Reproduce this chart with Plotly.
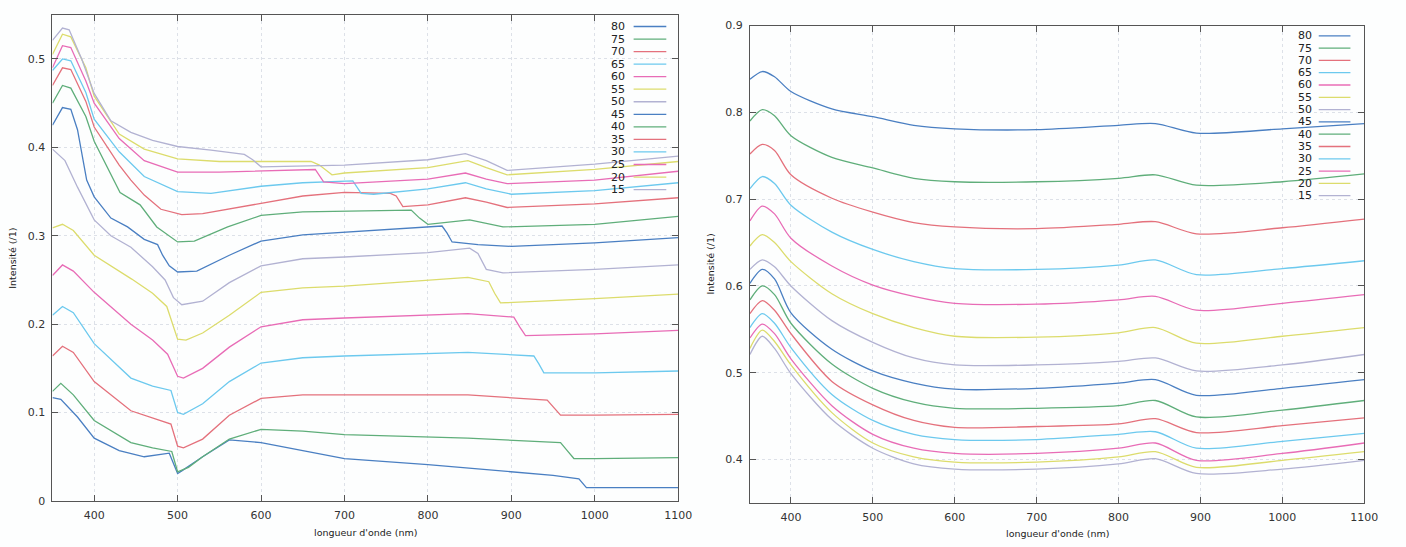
import plotly.graph_objects as go

# ---------------- data ----------------
LABELS = ["80", "75", "70", "65", "60", "55", "50", "45", "40", "35", "30", "25", "20", "15"]
COLORS = ["#4a7fc2", "#5fae7a", "#e4717c", "#6cc9ee", "#e86cb6", "#dcdc6c", "#b2b2d2",
          "#4a7fc2", "#5fae7a", "#e4717c", "#6cc9ee", "#e86cb6", "#dcdc6c", "#b2b2d2"]

# Left chart (per-series wavelength / intensity)
L80_WL = [350, 362, 372, 380, 391, 400, 420, 440, 460, 476, 482, 490, 500, 523, 562, 600, 650, 700, 817, 823, 829, 860, 900, 1000, 1100]
L80_I = [0.425, 0.445, 0.443, 0.42, 0.363, 0.344, 0.32, 0.31, 0.296, 0.29, 0.278, 0.266, 0.259, 0.26, 0.278, 0.294, 0.301, 0.304, 0.311, 0.303, 0.293, 0.29, 0.288, 0.292, 0.298]
L75_WL = [350, 362, 372, 390, 400, 420, 431, 455, 475, 500, 520, 560, 600, 650, 700, 780, 790, 800, 850, 890, 1000, 1100]
L75_I = [0.45, 0.47, 0.467, 0.435, 0.407, 0.37, 0.349, 0.335, 0.31, 0.293, 0.294, 0.31, 0.323, 0.327, 0.328, 0.329, 0.32, 0.313, 0.318, 0.31, 0.313, 0.322]
L70_WL = [350, 362, 372, 390, 400, 430, 444, 460, 480, 505, 530, 600, 650, 700, 755, 762, 770, 800, 845, 870, 895, 1000, 1100]
L70_I = [0.47, 0.49, 0.488, 0.452, 0.423, 0.38, 0.363, 0.346, 0.33, 0.324, 0.325, 0.337, 0.345, 0.349, 0.348, 0.345, 0.333, 0.335, 0.343, 0.338, 0.332, 0.336, 0.343]
L65_WL = [350, 362, 372, 390, 400, 430, 460, 500, 540, 600, 650, 710, 720, 735, 800, 845, 870, 900, 1000, 1100]
L65_I = [0.487, 0.5, 0.498, 0.462, 0.432, 0.395, 0.367, 0.35, 0.348, 0.356, 0.36, 0.362, 0.348, 0.347, 0.353, 0.36, 0.353, 0.347, 0.351, 0.36]
L60_WL = [350, 362, 372, 390, 400, 430, 460, 500, 550, 600, 665, 675, 700, 800, 845, 870, 895, 1000, 1100]
L60_I = [0.49, 0.515, 0.513, 0.475, 0.45, 0.41, 0.385, 0.372, 0.372, 0.373, 0.375, 0.361, 0.359, 0.364, 0.371, 0.364, 0.359, 0.363, 0.373]
L55_WL = [350, 362, 372, 390, 400, 430, 460, 500, 550, 600, 660, 670, 685, 700, 800, 848, 870, 895, 1000, 1100]
L55_I = [0.505, 0.528, 0.525, 0.49, 0.458, 0.415, 0.398, 0.387, 0.384, 0.384, 0.384, 0.38, 0.369, 0.371, 0.377, 0.385, 0.377, 0.369, 0.375, 0.384]
L50_WL = [350, 362, 370, 385, 400, 420, 444, 470, 500, 540, 580, 590, 600, 700, 800, 845, 870, 895, 1000, 1100]
L50_I = [0.521, 0.535, 0.533, 0.5, 0.461, 0.43, 0.417, 0.408, 0.401, 0.397, 0.392, 0.386, 0.378, 0.38, 0.386, 0.393, 0.385, 0.374, 0.381, 0.39]
L45_WL = [350, 360, 380, 400, 430, 460, 490, 500, 505, 530, 562, 600, 650, 700, 800, 848, 950, 981, 990, 1100]
L45_I = [0.117, 0.115, 0.095, 0.071, 0.057, 0.05, 0.054, 0.031, 0.034, 0.05, 0.069, 0.066, 0.057, 0.048, 0.041, 0.037, 0.029, 0.025, 0.015, 0.015]
L40_WL = [350, 360, 375, 400, 444, 470, 493, 500, 513, 530, 562, 600, 650, 700, 848, 959, 967, 975, 1000, 1100]
L40_I = [0.124, 0.133, 0.12, 0.091, 0.066, 0.06, 0.056, 0.033, 0.038, 0.05, 0.07, 0.081, 0.079, 0.075, 0.071, 0.066, 0.057, 0.048, 0.048, 0.049]
L35_WL = [350, 362, 375, 400, 444, 470, 492, 500, 507, 530, 562, 600, 650, 700, 848, 943, 951, 959, 1000, 1100]
L35_I = [0.164, 0.175, 0.168, 0.135, 0.102, 0.094, 0.087, 0.062, 0.06, 0.07, 0.097, 0.116, 0.12, 0.12, 0.12, 0.114, 0.106, 0.097, 0.097, 0.098]
L30_WL = [350, 362, 375, 400, 444, 470, 492, 500, 507, 530, 562, 600, 650, 700, 848, 927, 933, 939, 1000, 1100]
L30_I = [0.21, 0.22, 0.213, 0.178, 0.139, 0.13, 0.125, 0.1, 0.098, 0.11, 0.135, 0.156, 0.162, 0.164, 0.168, 0.164, 0.155, 0.145, 0.145, 0.147]
L25_WL = [350, 362, 375, 400, 444, 470, 488, 500, 507, 530, 562, 600, 650, 700, 848, 903, 910, 917, 1000, 1100]
L25_I = [0.255, 0.267, 0.26, 0.236, 0.2, 0.182, 0.166, 0.141, 0.139, 0.15, 0.174, 0.197, 0.205, 0.207, 0.212, 0.208, 0.197, 0.187, 0.189, 0.193]
L20_WL = [350, 362, 375, 400, 445, 470, 487, 500, 510, 530, 562, 600, 650, 700, 848, 873, 880, 887, 1000, 1100]
L20_I = [0.309, 0.313, 0.306, 0.278, 0.251, 0.235, 0.22, 0.183, 0.182, 0.19, 0.21, 0.236, 0.241, 0.243, 0.253, 0.248, 0.235, 0.224, 0.229, 0.234]
L15_WL = [350, 365, 380, 400, 420, 444, 470, 485, 495, 505, 530, 562, 600, 650, 700, 800, 850, 860, 870, 890, 1000, 1100]
L15_I = [0.398, 0.385, 0.355, 0.318, 0.3, 0.287, 0.265, 0.25, 0.23, 0.222, 0.226, 0.247, 0.266, 0.274, 0.276, 0.281, 0.286, 0.28, 0.262, 0.258, 0.262, 0.267]

LEFT_WL = [L80_WL, L75_WL, L70_WL, L65_WL, L60_WL, L55_WL, L50_WL, L45_WL, L40_WL, L35_WL, L30_WL, L25_WL, L20_WL, L15_WL]
LEFT_I = [L80_I, L75_I, L70_I, L65_I, L60_I, L55_I, L50_I, L45_I, L40_I, L35_I, L30_I, L25_I, L20_I, L15_I]

# Right chart (common wavelength grid)
R_WL = [350, 365, 380, 400, 450, 500, 550, 600, 700, 800, 845, 895, 1000, 1100]
R80 = [0.838, 0.847, 0.841, 0.824, 0.804, 0.795, 0.785, 0.781, 0.780, 0.785, 0.787, 0.776, 0.781, 0.787]
R75 = [0.790, 0.803, 0.796, 0.773, 0.748, 0.736, 0.724, 0.720, 0.720, 0.724, 0.728, 0.716, 0.720, 0.729]
R70 = [0.752, 0.763, 0.756, 0.728, 0.701, 0.685, 0.673, 0.668, 0.666, 0.671, 0.674, 0.660, 0.667, 0.677]
R65 = [0.712, 0.726, 0.718, 0.693, 0.662, 0.642, 0.628, 0.620, 0.619, 0.624, 0.630, 0.613, 0.620, 0.629]
R60 = [0.675, 0.692, 0.683, 0.655, 0.623, 0.601, 0.588, 0.580, 0.579, 0.584, 0.588, 0.572, 0.580, 0.590]
R55 = [0.646, 0.659, 0.650, 0.628, 0.591, 0.568, 0.552, 0.542, 0.541, 0.546, 0.552, 0.534, 0.542, 0.552]
R50 = [0.619, 0.630, 0.622, 0.600, 0.560, 0.535, 0.517, 0.509, 0.509, 0.513, 0.517, 0.502, 0.509, 0.521]
R45 = [0.603, 0.619, 0.608, 0.569, 0.527, 0.502, 0.488, 0.481, 0.482, 0.488, 0.492, 0.474, 0.482, 0.492]
R40 = [0.584, 0.600, 0.590, 0.557, 0.510, 0.482, 0.466, 0.459, 0.459, 0.462, 0.468, 0.449, 0.457, 0.468]
R35 = [0.568, 0.583, 0.572, 0.545, 0.490, 0.463, 0.445, 0.437, 0.438, 0.441, 0.447, 0.431, 0.439, 0.448]
R30 = [0.552, 0.568, 0.557, 0.529, 0.475, 0.445, 0.429, 0.423, 0.423, 0.429, 0.432, 0.413, 0.421, 0.430]
R25 = [0.540, 0.556, 0.545, 0.516, 0.462, 0.429, 0.413, 0.407, 0.407, 0.413, 0.419, 0.399, 0.407, 0.419]
R20 = [0.528, 0.549, 0.536, 0.509, 0.454, 0.419, 0.403, 0.397, 0.397, 0.403, 0.409, 0.391, 0.399, 0.409]
R15 = [0.521, 0.542, 0.528, 0.499, 0.446, 0.413, 0.395, 0.389, 0.389, 0.395, 0.401, 0.384, 0.389, 0.399]
RIGHT_I = [R80, R75, R70, R65, R60, R55, R50, R45, R40, R35, R30, R25, R20, R15]

X_TICKS = [400, 500, 600, 700, 800, 900, 1000, 1100]
LEFT_Y_TICKS = [0, 0.1, 0.2, 0.3, 0.4, 0.5]
LEFT_Y_TEXT = ["0", "0.1", "0.2", "0.3", "0.4", "0.5"]
RIGHT_Y_TICKS = [0.4, 0.5, 0.6, 0.7, 0.8, 0.9]
RIGHT_Y_TEXT = ["0.4", "0.5", "0.6", "0.7", "0.8", "0.9"]
X_TITLE = "longueur d'onde (nm)"
Y_TITLE = "Intensité (/1)"

# ---------------- figure ----------------
W, H = 1406, 547
FONT = "DejaVu Sans"
fig = go.Figure()

for wl, it, lab, col in zip(LEFT_WL, LEFT_I, LABELS, COLORS):
    fig.add_trace(go.Scatter(x=wl, y=it, mode="lines", name=lab, showlegend=False,
                             line=dict(color=col, width=1.3), xaxis="x", yaxis="y"))
for it, lab, col in zip(RIGHT_I, LABELS, COLORS):
    fig.add_trace(go.Scatter(x=R_WL, y=it, mode="lines", name=lab, showlegend=False,
                             line=dict(color=col, width=1.3, shape="spline", smoothing=0.8),
                             xaxis="x2", yaxis="y2"))

axis_common = dict(showline=True, linecolor="#555555", linewidth=1, mirror="ticks",
                   ticks="inside", ticklen=6, tickcolor="#555555", tickwidth=1,
                   showgrid=True, gridcolor="#dde1e8", griddash="dot", gridwidth=1,
                   zeroline=False, tickfont=dict(family=FONT, size=11, color="#333333"),
                   ticklabelstandoff=4)

fig.update_layout(
    width=W, height=H, margin=dict(l=0, r=0, t=0, b=0), autosize=False,
    paper_bgcolor="#fdfefe", plot_bgcolor="rgba(0,0,0,0)", showlegend=False,
    xaxis=dict(domain=[53 / W, 685 / W], range=[350, 1100], tickvals=X_TICKS, anchor="y", **axis_common),
    yaxis=dict(domain=[1 - 507 / H, 1 - 9 / H], range=[0, 0.55], tickvals=LEFT_Y_TICKS,
               ticktext=LEFT_Y_TEXT, anchor="x", **axis_common),
    xaxis2=dict(domain=[757.5 / W, 1378 / W], range=[350, 1100], tickvals=X_TICKS, anchor="y2", **axis_common),
    yaxis2=dict(domain=[1 - 509 / H, 1 - 20 / H], range=[0.35, 0.9], tickvals=RIGHT_Y_TICKS,
                ticktext=RIGHT_Y_TEXT, anchor="x2", **axis_common),
)

annotations = []
shapes = []
title_font = dict(family=FONT, size=9.5, color="#222222")
# axis titles
annotations.append(dict(text=X_TITLE, x=369 / W, y=1 - 539 / H, xref="paper", yref="paper",
                        showarrow=False, font=title_font, xanchor="center", yanchor="middle"))
annotations.append(dict(text=X_TITLE, x=1068 / W, y=1 - 540 / H, xref="paper", yref="paper",
                        showarrow=False, font=title_font, xanchor="center", yanchor="middle"))
annotations.append(dict(text=Y_TITLE, x=13 / W, y=1 - 258 / H, xref="paper", yref="paper", textangle=-90,
                        showarrow=False, font=title_font, xanchor="center", yanchor="middle"))
annotations.append(dict(text=Y_TITLE, x=718 / W, y=1 - 264 / H, xref="paper", yref="paper", textangle=-90,
                        showarrow=False, font=title_font, xanchor="center", yanchor="middle"))

# gnuplot-style keys (label on the left, line sample on the right)
legend_font = dict(family=FONT, size=11, color="#222222")
for (text_right, line_x0, line_x1, y0, dy) in [(633, 640, 673, 21, 12.85), (1327, 1332, 1364, 30.5, 12.6)]:
    for i, (lab, col) in enumerate(zip(LABELS, COLORS)):
        yy = 1 - (y0 + i * dy) / H
        annotations.append(dict(text=lab, x=text_right / W, y=yy, xref="paper", yref="paper",
                                showarrow=False, font=legend_font, xanchor="right", yanchor="middle"))
        shapes.append(dict(type="line", xref="paper", yref="paper", x0=line_x0 / W, x1=line_x1 / W,
                           y0=yy, y1=yy, line=dict(color=col, width=1.3)))

fig.update_layout(annotations=annotations, shapes=shapes)
fig.write_html("out.html", config={"responsive": False, "displayModeBar": False},
               post_script="document.body.style.margin='0';document.body.style.overflow='hidden';")
